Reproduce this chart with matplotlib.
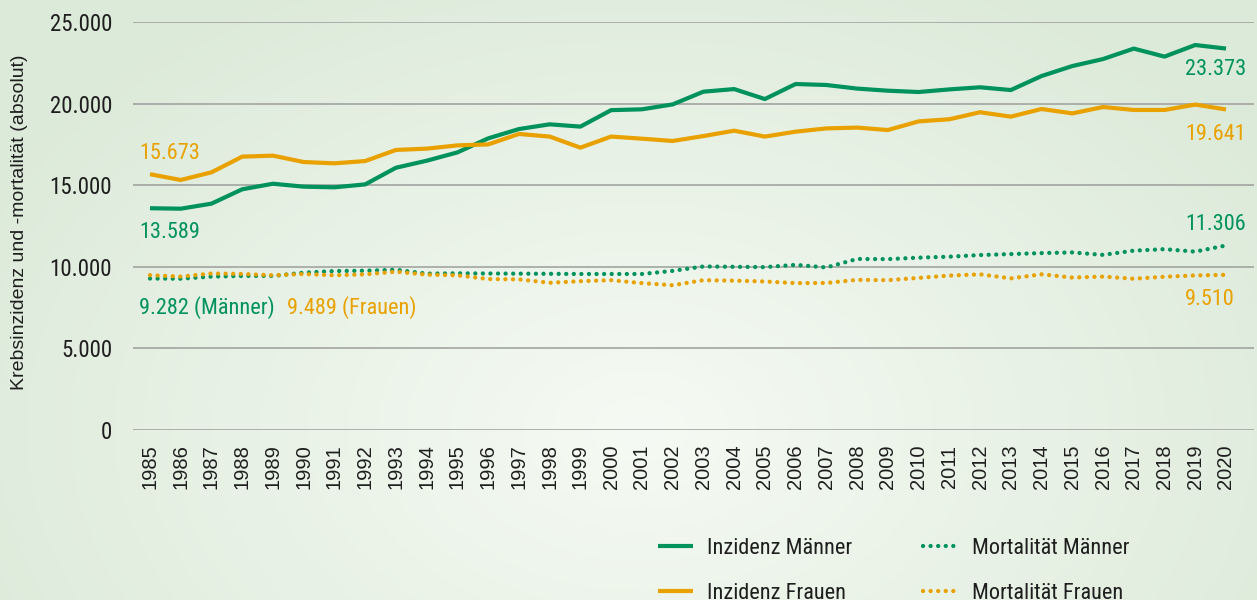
import numpy as np
import matplotlib
matplotlib.use("Agg")
import matplotlib.pyplot as plt
from matplotlib import font_manager as fm

years = list(range(1985, 2021))
inz_maenner = [13589, 13560, 13870, 14750, 15090, 14910, 14870, 15050, 16070, 16500,
               17010, 17870, 18440, 18730, 18590, 19600, 19650, 19950, 20730, 20890,
               20280, 21200, 21140, 20920, 20790, 20710, 20870, 21000, 20830, 21690,
               22300, 22730, 23370, 22880, 23590, 23373]
inz_frauen = [15673, 15320, 15790, 16750, 16810, 16420, 16340, 16480, 17160, 17240,
              17440, 17500, 18140, 17980, 17300, 17980, 17850, 17710, 18010, 18340,
              17980, 18280, 18480, 18530, 18380, 18910, 19040, 19470, 19200, 19670,
              19400, 19790, 19610, 19610, 19940, 19641]
mort_maenner = [9282, 9270, 9400, 9440, 9440, 9640, 9740, 9760, 9820, 9580,
                9600, 9590, 9580, 9570, 9560, 9560, 9560, 9750, 10020, 10000,
                9980, 10120, 9960, 10480, 10470, 10560, 10620, 10720, 10780, 10840,
                10880, 10730, 10990, 11080, 10930, 11306]
mort_frauen = [9489, 9400, 9590, 9560, 9480, 9560, 9480, 9540, 9700, 9520,
               9480, 9250, 9230, 9020, 9120, 9180, 9000, 8870, 9180, 9150,
               9100, 9000, 9010, 9200, 9180, 9320, 9460, 9540, 9290, 9540,
               9340, 9400, 9270, 9390, 9470, 9510]
y_ticks = [0, 5000, 10000, 15000, 20000, 25000]
y_tick_labels = ["0", "5.000", "10.000", "15.000", "20.000", "25.000"]
legend_labels = ["Inzidenz Männer", "Inzidenz Frauen", "Mortalität Männer", "Mortalität Frauen"]

GREEN = "#00925C"
ORANGE = "#E9A100"
TXT = "#1e1e1e"

# find a condensed / narrow font if one is installed
narrow_file = None
best = None
for f in fm.fontManager.ttflist:
    name = f.name
    isnarrow = ("Narrow" in name or "Condensed" in name or
                str(f.stretch) in ("condensed", "semi-condensed", "extra-condensed"))
    if not isnarrow or f.style != "normal":
        continue
    w = f.weight if isinstance(f.weight, int) else 400
    score = abs(w - 400)
    if "Liberation" in name:
        score -= 1000
    elif "Roboto" in name:
        score -= 500
    if best is None or score < best[0]:
        best = (score, f.fname)
if best is not None:
    narrow_file = best[1]

def nprop(size):
    if narrow_file:
        return fm.FontProperties(fname=narrow_file, size=size)
    return fm.FontProperties(family=["Liberation Sans", "DejaVu Sans"], size=size * 0.85)

REG = ["Liberation Sans", "DejaVu Sans"]

W, H = 1257, 600
fig = plt.figure(figsize=(W / 100, H / 100), dpi=100)

# background gradient
bg = fig.add_axes([0, 0, 1, 1], zorder=-10)
yy, xx = np.mgrid[0:H, 0:W]
d = np.sqrt(((xx - 640) / 760.0) ** 2 + ((yy - 430) / 520.0) ** 2)
d = np.clip(d, 0, 1)
c0 = np.array([0xf6, 0xfa, 0xf4]) / 255.0
c1 = np.array([0xdc, 0xea, 0xd9]) / 255.0
img = c0[None, None, :] * (1 - d[..., None]) + c1[None, None, :] * d[..., None]
bg.imshow(img, aspect="auto", extent=[0, 1, 0, 1], origin="upper")
bg.set_axis_off()

ax = fig.add_axes([133 / W, 170 / H, (1254 - 133) / W, 408 / H])
ax.patch.set_alpha(0)
ax.set_xlim(1985 - 17 / 30.74, 2020 + 28 / 30.74)
ax.set_ylim(0, 25000)
for s in ax.spines.values():
    s.set_visible(False)

ax.set_yticks(y_ticks)
ax.set_yticklabels(y_tick_labels, color=TXT)
for t in ax.get_yticklabels():
    t.set_fontproperties(nprop(16.5))
ax.set_xticks(years)
ax.set_xticklabels([str(y) for y in years], rotation=90, fontfamily=REG, fontsize=14.5,
                   color=TXT, va="top", ha="center")
ax.tick_params(axis="y", length=0, pad=15)
ax.tick_params(axis="x", length=0, pad=10.5)
ax.yaxis.grid(True, color="#9c9e9a", linewidth=1.1)
ax.set_axisbelow(True)

l1, = ax.plot(years, inz_maenner, color=GREEN, lw=3, solid_capstyle="butt", solid_joinstyle="round")
l2, = ax.plot(years, inz_frauen, color=ORANGE, lw=3, solid_capstyle="butt", solid_joinstyle="round")
dots = (0, (0.01, 1.75))
l3, = ax.plot(years, mort_maenner, color=GREEN, lw=3.1, linestyle=dots, dash_capstyle="round")
l4, = ax.plot(years, mort_frauen, color=ORANGE, lw=3.1, linestyle=dots, dash_capstyle="round")

PX = 0.72  # points per pixel
def note(txt, x, y, dx, dy, color, ha="left"):
    ax.annotate(txt, xy=(x, y), xytext=(dx * PX, dy * PX), textcoords="offset points",
                ha=ha, va="center", fontproperties=nprop(16), color=color)

note("15.673", years[0], inz_frauen[0], -11, 21, ORANGE)
note("13.589", years[0], inz_maenner[0], -11, -24, GREEN)
note("9.282 (Männer)", years[0], mort_maenner[0], -11, -29, GREEN)
note("9.489 (Frauen)", years[0], mort_frauen[0], 137, -32, ORANGE)
note("23.373", years[-1], inz_maenner[-1], -41, -21, GREEN)
note("19.641", years[-1], inz_frauen[-1], -41, -25.5, ORANGE)
note("11.306", years[-1], mort_maenner[-1], -41, 20.5, GREEN)
note("9.510", years[-1], mort_frauen[-1], -41, -25, ORANGE)

fig.text(20 / W, 1 - 222 / H, "Krebsinzidenz und -mortalität (absolut)", rotation=90,
         ha="center", va="center", fontfamily=REG, fontsize=14, color=TXT)

leg_kw = dict(frameon=False, loc="upper left", borderpad=0, borderaxespad=0,
              handlelength=1.58, handletextpad=0.63, labelspacing=1.08,
              prop=nprop(16))
lg1 = fig.legend([l1, l2], legend_labels[:2], bbox_to_anchor=(658 / W, 1 - 538 / H), **leg_kw)
for t in lg1.get_texts():
    t.set_color(TXT)
lg2 = fig.legend([l3, l4], legend_labels[2:], bbox_to_anchor=(923 / W, 1 - 538 / H), **leg_kw)
for t in lg2.get_texts():
    t.set_color(TXT)

fig.savefig("out.png", dpi=100)
